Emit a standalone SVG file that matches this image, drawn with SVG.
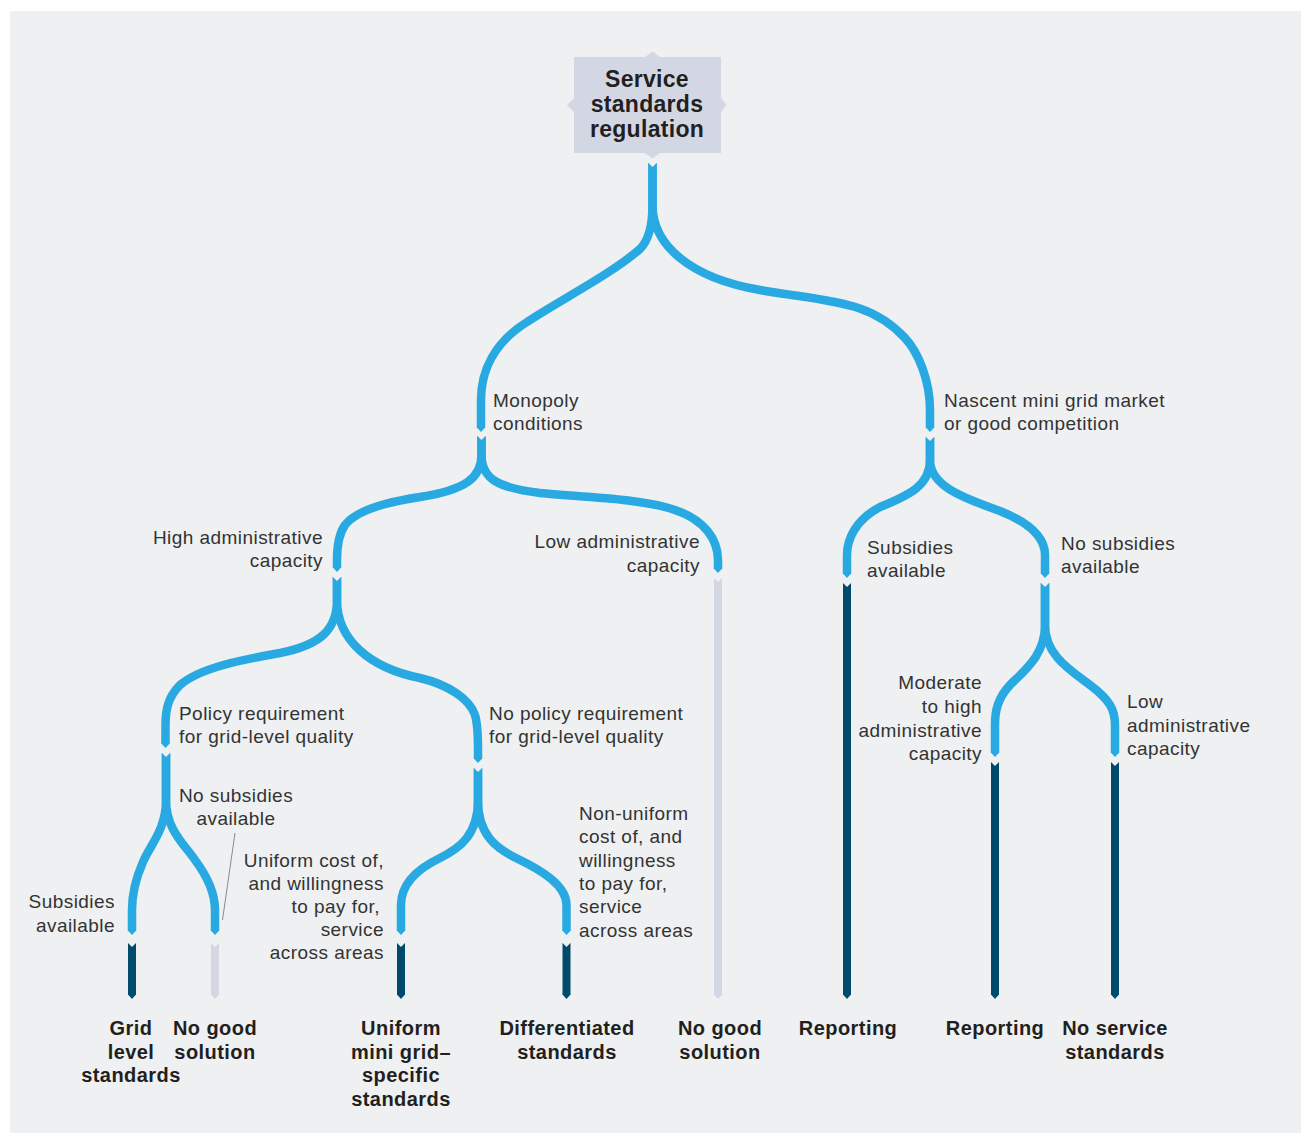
<svg xmlns="http://www.w3.org/2000/svg" width="1301" height="1133" viewBox="0 0 1301 1133">
<defs>
<style>
.b{fill:none;stroke:#29a9e1;stroke-width:8.5;marker-start:url(#notch);marker-end:url(#tipB)}
.d{fill:none;stroke:#004b6c;stroke-width:8;marker-start:url(#notch);marker-end:url(#tipD)}
.g{fill:none;stroke:#d3d7e3;stroke-width:8;marker-start:url(#notch);marker-end:url(#tipG)}
.lab{font-family:"Liberation Sans",Arial,sans-serif;font-size:19px;letter-spacing:0.45px;fill:#333333}
.r{text-anchor:end}
.leaf{font-family:"Liberation Sans",Arial,sans-serif;font-size:20px;letter-spacing:0.45px;font-weight:bold;fill:#231f20;text-anchor:middle}
.title{font-family:"Liberation Sans",Arial,sans-serif;font-size:23px;letter-spacing:0.3px;font-weight:bold;fill:#231f20;text-anchor:middle}
</style>
<marker id="tipB" markerUnits="userSpaceOnUse" viewBox="-1 -5 6 10" markerWidth="6" markerHeight="10" refX="0" refY="0" orient="auto"><path d="M-0.5,-4.25 L4,0 L-0.5,4.25 z" fill="#29a9e1"/></marker>
<marker id="tipD" markerUnits="userSpaceOnUse" viewBox="-1 -5 6 10" markerWidth="6" markerHeight="10" refX="0" refY="0" orient="auto"><path d="M-0.5,-4 L4,0 L-0.5,4 z" fill="#004b6c"/></marker>
<marker id="tipG" markerUnits="userSpaceOnUse" viewBox="-1 -5 6 10" markerWidth="6" markerHeight="10" refX="0" refY="0" orient="auto"><path d="M-0.5,-4 L4,0 L-0.5,4 z" fill="#d3d7e3"/></marker>
<marker id="notch" markerUnits="userSpaceOnUse" viewBox="-2 -6 8 12" markerWidth="8" markerHeight="12" refX="0" refY="0" orient="auto"><path d="M-1,-5 L4,0 L-1,5 z" fill="#eef0f2"/></marker>
</defs>
<rect x="0" y="0" width="1301" height="1133" fill="#ffffff"/>
<rect x="10" y="11" width="1291" height="1122" fill="#eef0f2"/>

<g id="connectors">
<path class="b" d="M652.5,163 V205 C652.5,225 649,240 640,249 C610,275 560,300 527,322 C495,342 481,370 481,400 V428"/>
<path class="b" d="M652.5,163 V205 C652.5,245 690,278 760,290 C830,302 870,300 905,338 C918,352 930,380 930,410 V428"/>
<path class="b" d="M481.5,436 V455 C481.5,478 465,490 420,497 C380,503 355,512 345,525 C338,535 337,550 337,560 V568"/>
<path class="b" d="M481.5,436 V455 C481.5,480 500,488 540,493 C580,497 640,498 675,510 C705,520 718,540 718,560 V569"/>
<path class="g" d="M718,578 V995"/>
<path class="b" d="M337,577 V600 C337,630 320,645 280,653 C240,660 200,668 180,685 C168,697 165.5,710 165.5,725 V744"/>
<path class="b" d="M337,577 V600 C337,640 370,668 420,678 C450,685 470,700 475,715 C478,725 478,740 478,750 V759"/>
<path class="b" d="M166,753 V800 C166,830 150,845 143,862 C135,880 132,895 132,910 V931"/>
<path class="b" d="M166,753 V800 C166,830 185,845 195,860 C210,880 215,895 215,910 V931"/>
<path class="d" d="M132,943 V995"/>
<path class="g" d="M215,943 V995"/>
<path class="b" d="M478,768 V800 C478,835 460,848 440,858 C415,870 401,885 401,905 V931"/>
<path class="b" d="M478,768 V800 C478,835 496,848 516,858 C541,870 566.5,885 566.5,905 V931"/>
<path class="d" d="M401,943 V995"/>
<path class="d" d="M566.5,943 V995"/>
<path class="b" d="M930,437 V460 C930,485 910,495 880,507 C855,520 847,540 847,555 V574"/>
<path class="b" d="M930,437 V460 C930,485 960,497 1000,511 C1035,525 1045,540 1045,555 V574"/>
<path class="d" d="M847,583 V995"/>
<path class="b" d="M1045,583 V625 C1045,655 1025,670 1010,685 C998,698 995,710 995,725 V753"/>
<path class="b" d="M1045,583 V625 C1045,655 1070,670 1090,685 C1110,700 1115,710 1115,725 V753"/>
<path class="d" d="M995,762 V995"/>
<path class="d" d="M1115,762 V995"/>
<line x1="235" y1="833" x2="222.5" y2="920" stroke="#8a8a8a" stroke-width="1"/>
</g>

<g id="node-root">
<rect x="574" y="57" width="147" height="96" fill="#d3d7e3"/>
<path d="M645,57 L652.7,51.5 L660,57 z M574,98 L567,105 L574,112 z M721,98 L726.5,105 L721,112 z M645,153 L652.7,158.5 L660,153 z" fill="#d3d7e3"/>
<text class="title" x="647" y="87">Service</text>
<text class="title" x="647" y="112">standards</text>
<text class="title" x="647" y="137">regulation</text>
</g>

<g id="node-monopoly"><text class="lab" x="493" y="407">Monopoly</text><text class="lab" x="493" y="430">conditions</text></g>
<g id="node-nascent"><text class="lab" x="944" y="407">Nascent mini grid market</text><text class="lab" x="944" y="430">or good competition</text></g>
<g id="node-high-admin"><text class="lab r" x="323" y="544">High administrative</text><text class="lab r" x="323" y="567">capacity</text></g>
<g id="node-low-admin"><text class="lab r" x="700" y="548">Low administrative</text><text class="lab r" x="700" y="572">capacity</text></g>
<g id="node-subsidies-right"><text class="lab" x="867" y="554">Subsidies</text><text class="lab" x="867" y="577">available</text></g>
<g id="node-no-subsidies-right"><text class="lab" x="1061" y="550">No subsidies</text><text class="lab" x="1061" y="573">available</text></g>
<g id="node-policy"><text class="lab" x="179" y="720">Policy requirement</text><text class="lab" x="179" y="743">for grid-level quality</text></g>
<g id="node-no-policy"><text class="lab" x="489" y="720">No policy requirement</text><text class="lab" x="489" y="743">for grid-level quality</text></g>
<g id="node-no-subsidies-left"><text class="lab" x="236" y="802" text-anchor="middle">No subsidies</text><text class="lab" x="236" y="825" text-anchor="middle">available</text></g>
<g id="node-subsidies-left"><text class="lab r" x="115" y="908">Subsidies</text><text class="lab r" x="115" y="932">available</text></g>
<g id="node-uniform-cost">
<text class="lab r" x="384" y="867">Uniform cost of,</text>
<text class="lab r" x="384" y="890">and willingness</text>
<text class="lab r" x="380" y="913">to pay for,</text>
<text class="lab r" x="384" y="936">service</text>
<text class="lab r" x="384" y="959">across areas</text>
</g>
<g id="node-nonuniform-cost">
<text class="lab" x="579" y="820">Non-uniform</text>
<text class="lab" x="579" y="843">cost of, and</text>
<text class="lab" x="579" y="867">willingness</text>
<text class="lab" x="579" y="890">to pay for,</text>
<text class="lab" x="579" y="913">service</text>
<text class="lab" x="579" y="937">across areas</text>
</g>
<g id="node-moderate-admin">
<text class="lab r" x="982" y="689">Moderate</text>
<text class="lab r" x="982" y="713">to high</text>
<text class="lab r" x="982" y="737">administrative</text>
<text class="lab r" x="982" y="760">capacity</text>
</g>
<g id="node-low-admin-right">
<text class="lab" x="1127" y="708">Low</text>
<text class="lab" x="1127" y="732">administrative</text>
<text class="lab" x="1127" y="755">capacity</text>
</g>

<g id="leaf-grid-level"><text class="leaf" x="131" y="1035">Grid</text><text class="leaf" x="131" y="1059">level</text><text class="leaf" x="131" y="1082">standards</text></g>
<g id="leaf-no-good-1"><text class="leaf" x="215" y="1035">No good</text><text class="leaf" x="215" y="1059">solution</text></g>
<g id="leaf-uniform"><text class="leaf" x="401" y="1035">Uniform</text><text class="leaf" x="401" y="1059">mini grid–</text><text class="leaf" x="401" y="1082">specific</text><text class="leaf" x="401" y="1106">standards</text></g>
<g id="leaf-differentiated"><text class="leaf" x="567" y="1035">Differentiated</text><text class="leaf" x="567" y="1059">standards</text></g>
<g id="leaf-no-good-2"><text class="leaf" x="720" y="1035">No good</text><text class="leaf" x="720" y="1059">solution</text></g>
<g id="leaf-reporting-1"><text class="leaf" x="848" y="1035">Reporting</text></g>
<g id="leaf-reporting-2"><text class="leaf" x="995" y="1035">Reporting</text></g>
<g id="leaf-no-service"><text class="leaf" x="1115" y="1035">No service</text><text class="leaf" x="1115" y="1059">standards</text></g>
</svg>
